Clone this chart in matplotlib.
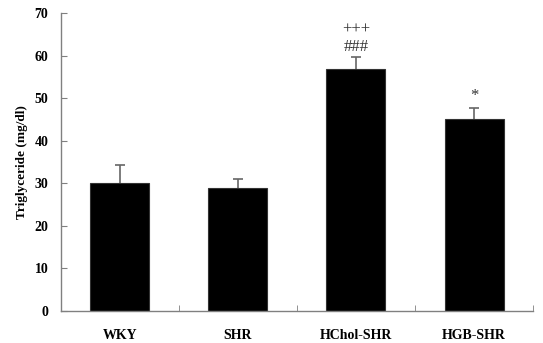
import numpy as np
import matplotlib
matplotlib.use("Agg")
import matplotlib.pyplot as plt

# data
groups = ["WKY", "SHR", "HChol-SHR", "HGB-SHR"]
means = [30.0, 28.9, 56.8, 45.0]
errors = [4.3, 2.0, 2.9, 2.8]
# significance marks: (group index, text, y position in data units)
marks = [(2, "+++", 66.2), (2, "###", 62.1), (3, "*", 50.4)]

plt.rcParams['font.family'] = ['Liberation Serif', 'DejaVu Serif']

fig = plt.figure(figsize=(5.43, 3.43), dpi=100)
ax = fig.add_axes([0.1123, 0.0933, 0.8693, 0.8687])

x = np.arange(len(groups))
# error bars behind the bars, so only the upper half shows
ax.errorbar(x, means, yerr=errors, fmt='none', ecolor='#666666',
            elinewidth=1.2, capsize=3.5, capthick=1.2, zorder=1)
ax.bar(x, means, width=0.5, color='black', edgecolor='#333333',
       linewidth=0.8, zorder=2)

for i, txt, yv in marks:
    ax.text(x[i], yv, txt, ha='center', va='center', fontsize=12,
            color='#333333', clip_on=False)

ax.set_xlim(-0.5, 3.5)
ax.set_ylim(0, 70)
ax.set_yticks(np.arange(0, 71, 10))
ax.set_xticks(x)
ax.set_xticklabels(groups, fontweight='bold', fontsize=10)
ax.set_xticks(np.arange(0.5, 4, 1), minor=True)
ax.tick_params(axis='x', which='major', length=0, pad=13)
ax.tick_params(axis='x', which='minor', direction='in', length=4, color='#808080')
ax.tick_params(axis='y', direction='in', length=4, color='#808080', labelsize=10, pad=9)
for lab in ax.get_yticklabels():
    lab.set_fontweight('bold')

ax.set_ylabel("Triglyceride (mg/dl)", fontweight='bold', fontsize=9.5, labelpad=5)

for s in ['top', 'right']:
    ax.spines[s].set_visible(False)
for s in ['left', 'bottom']:
    ax.spines[s].set_color('#808080')
    ax.spines[s].set_linewidth(1.0)

fig.savefig("out.png", dpi=100)
